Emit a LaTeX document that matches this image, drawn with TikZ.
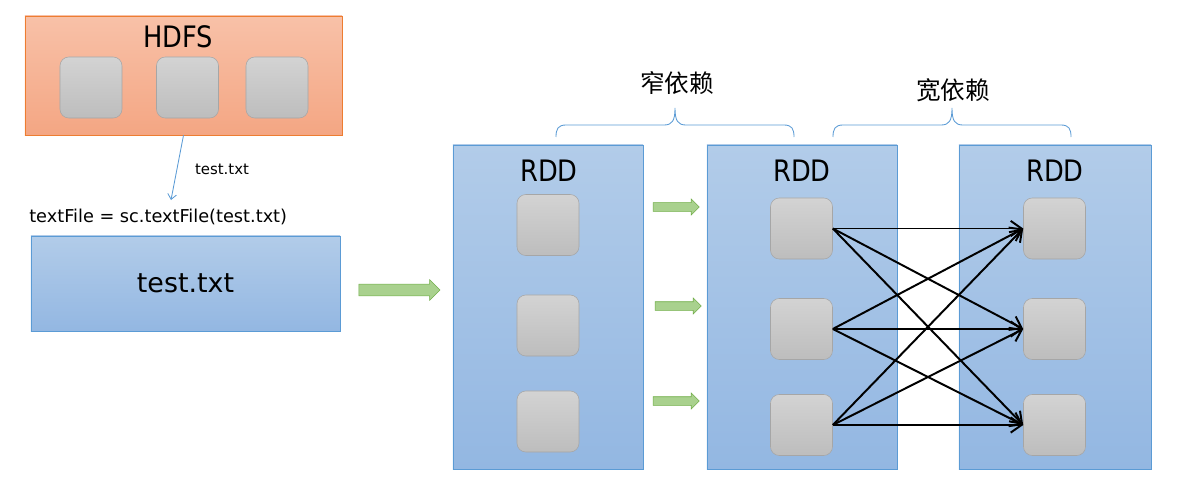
\documentclass[tikz,border=0pt]{standalone}
\usepackage{fontspec}
\setmainfont{DejaVu Sans}
\newfontfamily\titlefont[FakeStretch=0.87]{DejaVu Sans}
\newfontfamily\cjk{Noto Sans CJK SC}
\usetikzlibrary{arrows.meta,shapes.arrows}
\definecolor{hdfsTop}{HTML}{F8C1A8}
\definecolor{hdfsBot}{HTML}{F4A683}
\definecolor{hdfsLine}{HTML}{ED7D31}
\definecolor{rddTop}{HTML}{B2CCE9}
\definecolor{rddBot}{HTML}{93B7E2}
\definecolor{rddLine}{HTML}{5B9BD5}
\definecolor{partTop}{HTML}{D3D3D3}
\definecolor{partBot}{HTML}{BDBDBD}
\definecolor{partLine}{HTML}{A6A6A6}
\definecolor{greenFill}{HTML}{A9D18E}
\definecolor{greenLine}{HTML}{70AD47}

\begin{document}
\begin{tikzpicture}[x=0.025cm, y=-0.025cm]
 \tikzstyle{store}=[rectangle, draw=hdfsLine, top color=hdfsTop, bottom color=hdfsBot, minimum width=7.925cm, minimum height=2.975cm]
 \tikzstyle{rdd}=[rectangle, draw=rddLine, top color=rddTop, bottom color=rddBot, minimum width=4.75cm, minimum height=8.1cm]
 \tikzstyle{part}=[rectangle, rounded corners=0.22cm, draw=partLine, top color=partTop, bottom color=partBot, minimum width=1.55cm, minimum height=1.525cm]
 \tikzstyle{title}=[font=\titlefont\fontsize{21}{25}\selectfont]
 \tikzstyle{move}=[single arrow, draw=greenLine, fill=greenFill, inner sep=0pt, inner ysep=0.1cm, single arrow head extend=0.09cm]
 \tikzstyle{dep}=[-{Straight Barb[length=0.27cm,width=0.38cm]}, line width=1.4pt, black]
 \tikzstyle{brc}=[draw=rddLine, line width=0.6pt]
 \useasboundingbox (0,0) rectangle (1184,486);
 %
 \node[store] (hdfs) at (183.5, 75.5) {};
 \node[title] (hdfsname) at (178, 37) {HDFS};
 \node[part] (h1) at (91, 87.5) {};
 \node[part] (h2) at (187.5, 87.5) {};
 \node[part] (h3) at (277, 87.5) {};
 %
 \coordinate (tf) at (171, 200);
 \draw[rddLine, line width=0.6pt, -{Straight Barb[length=0.13cm,width=0.22cm]}] (hdfs.south) -- (tf);
 \node[font=\fontsize{10.6}{12}\selectfont] (lbl) at (222, 169) {test.txt};
 \node[anchor=west, inner sep=0pt, font=\fontsize{12.6}{15}\selectfont] (call) at (29, 217) {textFile = sc.textFile(test.txt)};
 \node[rectangle, draw=rddLine, top color=rddTop, bottom color=rddBot, minimum width=7.725cm, minimum height=2.375cm, font=\fontsize{19.1}{23}\selectfont] (txt) at (185.5, 283.5) {test.txt};
 \node[move, minimum height=2.025cm, inner ysep=0.14cm, single arrow head extend=0.11cm] (big) at (396.5, 290) {};
 %
 \node[rdd] (rdd1) at (548, 307) {};
 \node[rdd] (rdd2) at (802, 307) {};
 \node[rdd, minimum width=4.8cm] (rdd3) at (1055, 307) {};
 \node[title] (n1) at (549, 171) {RDD};
 \node[title] (n2) at (802, 171) {RDD};
 \node[title] (n3) at (1055, 171) {RDD};
 %
 \node[part] (a1) at (548, 225) {};
 \node[part] (a2) at (548, 325.5) {};
 \node[part] (a3) at (548, 421.5) {};
 \node[part] (b1) at (801.5, 228.5) {};
 \node[part] (b2) at (801.5, 329) {};
 \node[part] (b3) at (801.5, 425) {};
 \node[part] (c1) at (1054.5, 228.5) {};
 \node[part] (c2) at (1054.5, 329) {};
 \node[part] (c3) at (1054.5, 425) {};
 %
 \node[move, minimum height=1.15cm] (m1) at (674, 207) {};
 \node[move, minimum height=1.15cm] (m2) at (676, 306) {};
 \node[move, minimum height=1.15cm] (m3) at (674, 401) {};
 %%
 \foreach \i in {1,2,3}
  \foreach \j in {1,2,3}
   \draw[dep] (b\i.east) -- (c\j.west);
 %
 \draw[brc] (556,137) .. controls (556,129) and (558,125) .. (566,125) -- (664,125) .. controls (672,125) and (675,121) .. (675,108) .. controls (675,121) and (678,125) .. (686,125) -- (784,125) .. controls (792,125) and (794,129) .. (794,137);
 \draw[brc] (833,137) .. controls (833,129) and (835,125) .. (843,125) -- (941,125) .. controls (949,125) and (952,121) .. (952,108) .. controls (952,121) and (955,125) .. (963,125) -- (1061,125) .. controls (1069,125) and (1071,129) .. (1071,137);
 \node[font=\cjk\fontsize{17.5}{20}\selectfont] (narrow) at (677, 83) {窄依赖};
 \node[font=\cjk\fontsize{17.5}{20}\selectfont] (wide) at (953, 90) {宽依赖};
\end{tikzpicture}
\end{document}
